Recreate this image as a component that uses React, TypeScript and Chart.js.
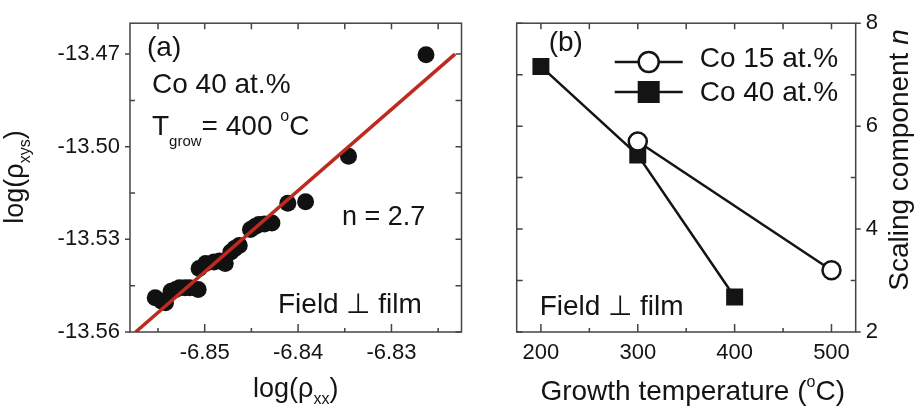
import React, { useEffect, useRef } from 'react';
import { Chart, registerables } from 'chart.js';

Chart.register(...registerables);

const FONT = "'Liberation Sans', Arial, Helvetica, sans-serif";
const INK = '#141414';
const FRAME = '#444444';
const RED = '#bf2a1f';

// ---------- Panel (a) data ----------
const A_LOG_RXX = [
  -6.8553, -6.8546, -6.8542, -6.8536, -6.8531, -6.8527, -6.8521, -6.8516, -6.8507,
  -6.8506, -6.8499, -6.849, -6.8484, -6.8478, -6.8472, -6.8468, -6.8463, -6.8451,
  -6.8446, -6.8442, -6.8436, -6.8428, -6.8411, -6.8392, -6.8346, -6.8263,
];
const A_LOG_RXYS = [
  -13.5489, -13.55, -13.5505, -13.5468, -13.5462, -13.5457, -13.5457, -13.5457, -13.5462,
  -13.5394, -13.5378, -13.5373, -13.537, -13.5378, -13.5341, -13.533, -13.532, -13.5268,
  -13.5258, -13.5252, -13.525, -13.5247, -13.5183, -13.5178, -13.5031, -13.4702,
];
const FIT_X = [-6.8574, -6.8232];
const FIT_Y = [-13.56, -13.47];
const A_X_TICKS = [-6.85, -6.84, -6.83];
const A_X_MINOR = [-6.855, -6.845, -6.835, -6.825];
const A_Y_TICKS = [-13.56, -13.53, -13.5, -13.47];
const A_Y_MINOR = [-13.545, -13.515, -13.485];
const A_X_RANGE = [-6.858, -6.8225];
const A_Y_RANGE = [-13.56, -13.46];

// ---------- Panel (b) data ----------
const SERIES_LABELS = ['Co 15 at.%', 'Co 40 at.%'];
const TEMPS_15 = [300, 500];
const N_15 = [5.7, 3.2];
const TEMPS_40 = [200, 300, 400];
const N_40 = [7.16, 5.44, 2.68];
const B_X_TICKS = [200, 300, 400, 500];
const B_X_MINOR = [250, 350, 450];
const B_Y_TICKS = [2, 4, 6, 8];
const B_Y_MINOR = [3, 5, 7];
const B_X_RANGE = [175, 525];
const B_Y_RANGE = [2, 8];

type Part = { t: string; size: number; dy?: number; italic?: boolean };

function drawRich(ctx: CanvasRenderingContext2D, parts: Part[], x: number, y: number, align: 'left' | 'center' = 'left') {
  ctx.save();
  ctx.fillStyle = INK;
  ctx.textBaseline = 'alphabetic';
  ctx.textAlign = 'left';
  const fontOf = (p: Part) => `${p.italic ? 'italic ' : ''}${p.size}px ${FONT}`;
  const widths = parts.map((p) => {
    ctx.font = fontOf(p);
    return ctx.measureText(p.t).width;
  });
  const total = widths.reduce((s, w) => s + w, 0);
  let cx = align === 'center' ? x - total / 2 : x;
  parts.forEach((p, i) => {
    ctx.font = fontOf(p);
    ctx.fillText(p.t, cx, y + (p.dy || 0));
    cx += widths[i];
  });
  ctx.restore();
}

function drawRotated(ctx: CanvasRenderingContext2D, parts: Part[], x: number, y: number) {
  ctx.save();
  ctx.translate(x, y);
  ctx.rotate(-Math.PI / 2);
  drawRich(ctx, parts, 0, 0, 'center');
  ctx.restore();
}

type FrameCfg = {
  xMajor: number[];
  xMinor: number[];
  yMajor: number[];
  yMinor: number[];
  labelSide: 'left' | 'right';
};

function framePlugin(cfg: FrameCfg) {
  return {
    id: 'frame',
    afterDatasetsDraw(chart: any) {
      const { ctx, chartArea: a, scales } = chart;
      ctx.save();
      ctx.strokeStyle = FRAME;
      ctx.lineWidth = 1.5;
      ctx.strokeRect(a.left, a.top, a.right - a.left, a.bottom - a.top);
      ctx.beginPath();
      const xt = (v: number, lenBottom: number, lenTop: number) => {
        const px = scales.x.getPixelForValue(v);
        ctx.moveTo(px, a.bottom);
        ctx.lineTo(px, a.bottom - lenBottom);
        ctx.moveTo(px, a.top);
        ctx.lineTo(px, a.top + lenTop);
      };
      cfg.xMajor.forEach((v) => xt(v, 8, 6));
      cfg.xMinor.forEach((v) => xt(v, 4, 6));
      const labelX = cfg.labelSide === 'left' ? a.left : a.right;
      const otherX = cfg.labelSide === 'left' ? a.right : a.left;
      const outDir = cfg.labelSide === 'left' ? -1 : 1;
      cfg.yMajor.forEach((v) => {
        const py = scales.y.getPixelForValue(v);
        ctx.moveTo(labelX, py);
        ctx.lineTo(labelX + outDir * 5, py);
        ctx.moveTo(otherX, py);
        ctx.lineTo(otherX + outDir * 6, py);
      });
      cfg.yMinor.forEach((v) => {
        const py = scales.y.getPixelForValue(v);
        ctx.moveTo(labelX, py);
        ctx.lineTo(labelX - outDir * 5, py);
        ctx.moveTo(otherX, py);
        ctx.lineTo(otherX + outDir * 6, py);
      });
      ctx.stroke();
      ctx.restore();
    },
  };
}

const annotA = {
  id: 'annotA',
  afterDraw(chart: any) {
    const { ctx, chartArea: a } = chart;
    drawRich(ctx, [{ t: '(a)', size: 28 }], a.left + 17, a.top + 33);
    drawRich(ctx, [{ t: 'Co 40 at.%', size: 28 }], a.left + 22, a.top + 70);
    drawRich(
      ctx,
      [
        { t: 'T', size: 28 },
        { t: 'grow', size: 15, dy: 11 },
        { t: '= 400 ', size: 28 },
        { t: 'o', size: 16, dy: -14 },
        { t: 'C', size: 28 },
      ],
      a.left + 22,
      a.top + 112
    );
    drawRich(ctx, [{ t: 'n = 2.7', size: 27 }], a.left + 212, a.top + 202);
    drawRich(ctx, [{ t: 'Field ⊥ film', size: 28 }], a.left + 148, a.top + 290);
    drawRich(
      ctx,
      [
        { t: 'log(ρ', size: 27 },
        { t: 'xx', size: 16, dy: 7 },
        { t: ')', size: 27 },
      ],
      (a.left + a.right) / 2,
      397,
      'center'
    );
    drawRotated(
      ctx,
      [
        { t: 'log(ρ', size: 27 },
        { t: 'xys', size: 16, dy: 7 },
        { t: ')', size: 27 },
      ],
      23,
      177
    );
  },
};

const annotB = {
  id: 'annotB',
  afterDraw(chart: any) {
    const { ctx, chartArea: a, data } = chart;
    drawRich(ctx, [{ t: '(b)', size: 28 }], a.left + 32, a.top + 28);
    drawRich(ctx, [{ t: 'Field ⊥ film', size: 28 }], a.left + 23, a.top + 292);
    const rows = [
      { cy: 62, tb: 67 },
      { cy: 92, tb: 101 },
    ];
    data.datasets.forEach((ds: any, i: number) => {
      const r = rows[i];
      const x0 = a.left + 98;
      const x1 = a.left + 166;
      const mx = a.left + 132;
      ctx.save();
      ctx.strokeStyle = INK;
      ctx.lineWidth = 2.5;
      ctx.beginPath();
      ctx.moveTo(x0, r.cy);
      ctx.lineTo(x1, r.cy);
      ctx.stroke();
      if (ds.pointStyle === 'circle') {
        ctx.beginPath();
        ctx.arc(mx, r.cy, 10, 0, Math.PI * 2);
        ctx.fillStyle = '#ffffff';
        ctx.fill();
        ctx.stroke();
      } else {
        ctx.fillStyle = INK;
        ctx.fillRect(mx - 11, r.cy - 11, 22, 22);
      }
      ctx.restore();
      drawRich(ctx, [{ t: ds.label, size: 28 }], a.left + 183, r.tb);
    });
    drawRich(
      ctx,
      [
        { t: 'Growth temperature (', size: 28 },
        { t: 'o', size: 16, dy: -13 },
        { t: 'C)', size: 28 },
      ],
      a.left + 176,
      400,
      'center'
    );
    drawRotated(
      ctx,
      [
        { t: 'Scaling component ', size: 28 },
        { t: 'n', size: 28, italic: true },
      ],
      438,
      160
    );
  },
};

export default function App() {
  const refA = useRef<HTMLCanvasElement>(null);
  const refB = useRef<HTMLCanvasElement>(null);

  useEffect(() => {
    Chart.defaults.font.family = FONT;
    Chart.defaults.color = INK;

    const chartA = new Chart(refA.current as HTMLCanvasElement, {
      type: 'scatter',
      data: {
        datasets: [
          {
            label: 'fit',
            data: FIT_X.map((x, i) => ({ x, y: FIT_Y[i] })),
            showLine: true,
            borderColor: RED,
            borderWidth: 3.5,
            pointRadius: 0,
            order: 1,
          } as any,
          {
            label: 'data',
            data: A_LOG_RXX.map((x, i) => ({ x, y: A_LOG_RXYS[i] })),
            pointRadius: 8.5,
            pointBackgroundColor: '#111111',
            pointBorderWidth: 0,
            borderColor: '#111111',
            order: 2,
          },
        ],
      },
      options: {
        animation: false,
        responsive: false,
        maintainAspectRatio: false,
        layout: { padding: { left: 0, top: 15, right: 3, bottom: 0 } },
        plugins: { legend: { display: false }, tooltip: { enabled: false } },
        scales: {
          x: {
            type: 'linear',
            min: A_X_RANGE[0],
            max: A_X_RANGE[1],
            grid: { display: false, drawTicks: false },
            border: { display: false },
            afterBuildTicks: (s: any) => {
              s.ticks = A_X_TICKS.map((v) => ({ value: v }));
            },
            afterFit: (s: any) => {
              s.height = 86;
            },
            ticks: {
              padding: 8,
              autoSkip: false,
              maxRotation: 0,
              color: INK,
              font: { size: 22 },
              callback: (v: any) => Number(v).toFixed(2),
            },
          },
          y: {
            type: 'linear',
            min: A_Y_RANGE[0],
            max: A_Y_RANGE[1],
            grid: { display: false, drawTicks: false },
            border: { display: false },
            afterBuildTicks: (s: any) => {
              s.ticks = A_Y_TICKS.map((v) => ({ value: v }));
            },
            afterFit: (s: any) => {
              s.width = 130;
            },
            ticks: {
              padding: 10,
              autoSkip: false,
              color: INK,
              font: { size: 22 },
              callback: (v: any) => Number(v).toFixed(2),
            },
          },
        },
      },
      plugins: [
        framePlugin({ xMajor: A_X_TICKS, xMinor: A_X_MINOR, yMajor: A_Y_TICKS, yMinor: A_Y_MINOR, labelSide: 'left' }),
        annotA,
      ],
    });

    const chartB = new Chart(refB.current as HTMLCanvasElement, {
      type: 'scatter',
      data: {
        datasets: [
          {
            label: SERIES_LABELS[0],
            data: TEMPS_15.map((x, i) => ({ x, y: N_15[i] })),
            showLine: true,
            borderColor: INK,
            borderWidth: 2.5,
            pointStyle: 'circle',
            pointRadius: 9,
            pointBackgroundColor: '#ffffff',
            pointBorderColor: INK,
            pointBorderWidth: 2.5,
            order: 1,
          },
          {
            label: SERIES_LABELS[1],
            data: TEMPS_40.map((x, i) => ({ x, y: N_40[i] })),
            showLine: true,
            borderColor: INK,
            borderWidth: 2.5,
            pointStyle: 'rect',
            pointRadius: 12,
            pointBackgroundColor: INK,
            pointBorderColor: INK,
            pointBorderWidth: 0,
            order: 2,
          },
        ],
      },
      options: {
        animation: false,
        responsive: false,
        maintainAspectRatio: false,
        layout: { padding: { left: 46.7, top: 15, right: 0, bottom: 0 } },
        plugins: { legend: { display: false }, tooltip: { enabled: false } },
        scales: {
          x: {
            type: 'linear',
            min: B_X_RANGE[0],
            max: B_X_RANGE[1],
            grid: { display: false, drawTicks: false },
            border: { display: false },
            afterBuildTicks: (s: any) => {
              s.ticks = B_X_TICKS.map((v) => ({ value: v }));
            },
            afterFit: (s: any) => {
              s.height = 86;
            },
            ticks: {
              padding: 8,
              autoSkip: false,
              maxRotation: 0,
              color: INK,
              font: { size: 22 },
            },
          },
          y: {
            type: 'linear',
            position: 'right',
            min: B_Y_RANGE[0],
            max: B_Y_RANGE[1],
            grid: { display: false, drawTicks: false },
            border: { display: false },
            afterBuildTicks: (s: any) => {
              s.ticks = B_Y_TICKS.map((v) => ({ value: v }));
            },
            afterFit: (s: any) => {
              s.width = 66.3;
            },
            ticks: {
              padding: 10,
              autoSkip: false,
              color: INK,
              font: { size: 22 },
            },
          },
        },
      },
      plugins: [
        framePlugin({ xMajor: B_X_TICKS, xMinor: B_X_MINOR, yMajor: B_Y_TICKS, yMinor: B_Y_MINOR, labelSide: 'right' }),
        annotB,
      ],
    });

    return () => {
      chartA.destroy();
      chartB.destroy();
    };
  }, []);

  return (
    <div style={{ position: 'fixed', left: 0, top: 0, width: 922, height: 418, background: '#ffffff' }}>
      <canvas ref={refA} width={470} height={418} style={{ position: 'absolute', left: 0, top: 0 }} />
      <canvas ref={refB} width={452} height={418} style={{ position: 'absolute', left: 470, top: 0 }} />
    </div>
  );
}
